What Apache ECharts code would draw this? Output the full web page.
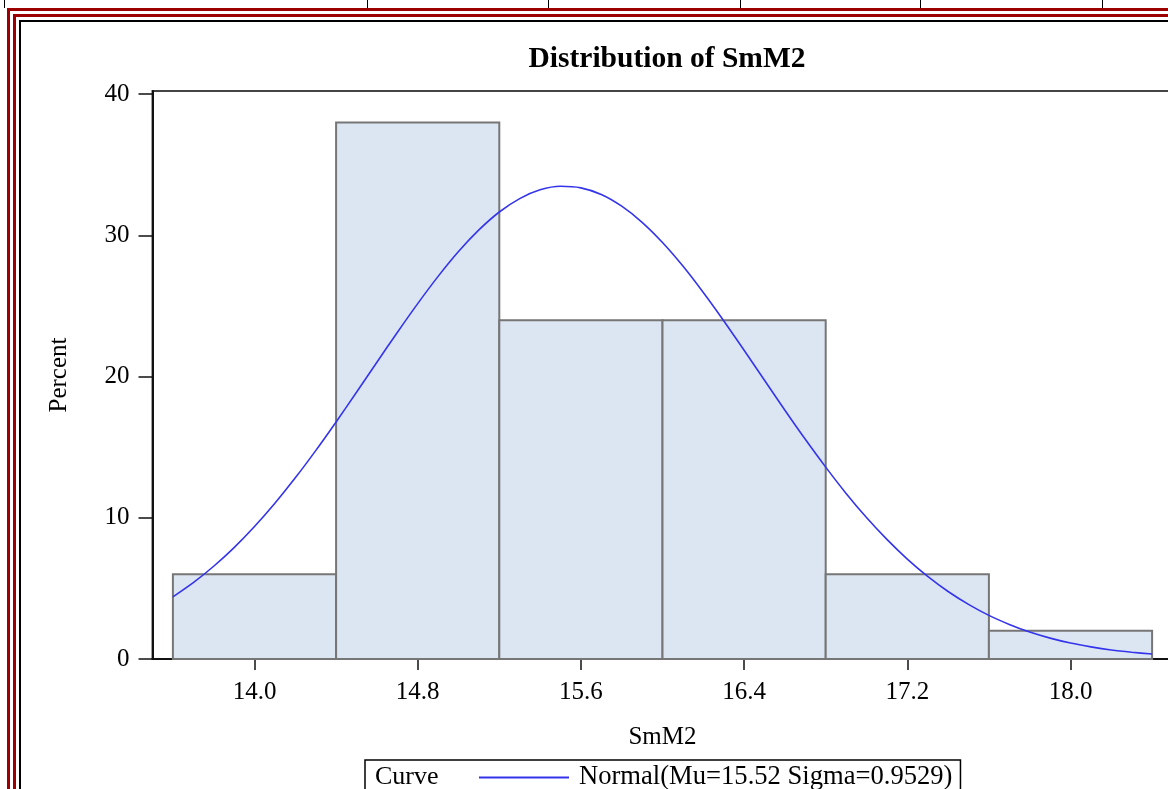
<!DOCTYPE html>
<html>
<head>
<meta charset="utf-8">
<script src="https://cdn.jsdelivr.net/npm/echarts@6/dist/echarts.min.js"></script>
<style>
  html, body { margin: 0; padding: 0; background: #fff; }
  body { width: 1168px; height: 789px; overflow: hidden; position: relative; }
  .deco { position: absolute; box-sizing: border-box; }
  #chart { position: absolute; left: 0; top: 0; width: 1168px; height: 860px; }
</style>
</head>
<body>
<div class="deco" style="left:4px;top:-2px;width:1px;height:10px;background:#000"></div>
<div class="deco" style="left:367px;top:-2px;width:1px;height:10px;background:#000"></div>
<div class="deco" style="left:548px;top:-2px;width:1px;height:10px;background:#000"></div>
<div class="deco" style="left:740px;top:-2px;width:1px;height:10px;background:#000"></div>
<div class="deco" style="left:920px;top:-2px;width:1px;height:10px;background:#000"></div>
<div class="deco" style="left:1102px;top:-2px;width:1px;height:10px;background:#000"></div>
<div class="deco" style="left:7px;top:8px;width:2000px;height:2000px;border-top:3px solid #9c0000;border-left:3px solid #9c0000"></div>
<div class="deco" style="left:13px;top:14px;width:2000px;height:2000px;border-top:3px solid #9c0000;border-left:3px solid #9c0000"></div>
<div class="deco" style="left:19px;top:20px;width:2000px;height:2000px;border-top:2px solid #000;border-left:2px solid #000"></div>
<div id="chart"></div>
<script>
// ---- data ----
const binMidpoints = [14.0, 14.8, 15.6, 16.4, 17.2, 18.0];
const binWidth = 0.8;
const binPercents = [6, 38, 24, 24, 6, 2];
const xTickLabels = [14.0, 14.8, 15.6, 16.4, 17.2, 18.0];
const yTickLabels = [0, 10, 20, 30, 40];
const curveX = [13.6, 13.7, 13.8, 13.9, 14.0, 14.1, 14.2, 14.3, 14.4, 14.5,
                14.6, 14.7, 14.8, 14.9, 15.0, 15.1, 15.2, 15.3, 15.4, 15.5,
                15.6, 15.7, 15.8, 15.9, 16.0, 16.1, 16.2, 16.3, 16.4, 16.5,
                16.6, 16.7, 16.8, 16.9, 17.0, 17.1, 17.2, 17.3, 17.4, 17.5,
                17.6, 17.7, 17.8, 17.9, 18.0, 18.1, 18.2, 18.3, 18.4];
const curveY = [4.40, 5.41, 6.57, 7.89, 9.38, 11.03, 12.83, 14.76, 16.79, 18.89,
                21.02, 23.13, 25.17, 27.10, 28.86, 30.39, 31.66, 32.61, 33.23, 33.48,
                33.37, 32.90, 32.07, 30.93, 29.50, 27.83, 25.96, 23.96, 21.87, 19.74,
                17.62, 15.56, 13.59, 11.73, 10.02, 8.47, 7.08, 5.85, 4.78, 3.87,
                3.09, 2.45, 1.91, 1.48, 1.13, 0.86, 0.64, 0.48, 0.35];
const curveName = 'Normal(Mu=15.52 Sigma=0.9529)';

const FONT = "'Liberation Serif', 'Times New Roman', serif";
const CURVE_COLOR = '#3434ec';
const barData = binMidpoints.map((m, i) => [m, binPercents[i]]);
const curveData = curveX.map((x, i) => [x, curveY[i]]);

const chart = echarts.init(document.getElementById('chart'), null, { renderer: 'canvas' });
chart.setOption({
  animation: false,
  backgroundColor: 'transparent',
  textStyle: { fontFamily: FONT, color: '#000' },
  title: {
    text: 'Distribution of SmM2',
    left: 662, top: 39, textAlign: 'center',
    textStyle: { fontFamily: FONT, fontWeight: 'bold', fontSize: 29.5, color: '#000' }
  },
  grid: {
    left: 152.5, top: 91, width: 1020, height: 568,
    show: true, borderColor: '#444', borderWidth: 2, backgroundColor: 'transparent',
    outerBoundsMode: 'none', containLabel: false
  },
  xAxis: {
    type: 'value', min: 13.5, max: 18.5,
    name: 'SmM2', nameLocation: 'middle', nameGap: 66,
    nameTextStyle: { fontFamily: FONT, fontSize: 25, color: '#000' },
    axisLine: { show: true, onZero: false, lineStyle: { color: '#111', width: 2 } },
    axisTick: { show: true, length: 11, customValues: xTickLabels, lineStyle: { color: '#111', width: 1.5 } },
    axisLabel: { show: true, margin: 21, customValues: xTickLabels, fontFamily: FONT, fontSize: 25, color: '#000',
                 formatter: v => Number(v).toFixed(1) },
    splitLine: { show: false }
  },
  yAxis: {
    type: 'value', min: 0, max: 40.23,
    name: 'Percent', nameLocation: 'middle', nameGap: 81, nameRotate: 90,
    nameTextStyle: { fontFamily: FONT, fontSize: 25, color: '#000' },
    axisLine: { show: true, lineStyle: { color: '#111', width: 2 } },
    axisTick: { show: true, length: 14, customValues: yTickLabels, lineStyle: { color: '#111', width: 1.5 } },
    axisLabel: { show: true, margin: 23, customValues: yTickLabels, fontFamily: FONT, fontSize: 25, color: '#000' },
    splitLine: { show: false }
  },
  legend: {
    show: true,
    left: 365, top: 760, width: 'auto', height: 'auto',
    orient: 'horizontal',
    padding: [4, 8, 20, 113],
    borderColor: '#000', borderWidth: 1.5,
    itemWidth: 90, itemHeight: 14,
    data: [curveName],
    itemStyle: { color: 'transparent', borderColor: 'transparent', borderWidth: 0, opacity: 0 },
    textStyle: { fontFamily: FONT, fontSize: 26.6, color: '#000', padding: [0, 0, 0, 5] },
    selectedMode: false
  },
  graphic: [{
    type: 'text', left: 375, top: 764,
    style: { text: 'Curve', font: "26px 'Liberation Serif', 'Times New Roman', serif", fill: '#000' }
  }],
  series: [
    {
      type: 'custom',
      name: 'bars',
      data: barData,
      encode: { x: 0, y: 1 },
      z: 2,
      renderItem: function (params, api) {
        const mid = api.value(0), h = api.value(1);
        const p0 = api.coord([mid - binWidth / 2, h]);
        const p1 = api.coord([mid + binWidth / 2, 0]);
        return {
          type: 'rect',
          shape: { x: p0[0], y: p0[1], width: p1[0] - p0[0], height: p1[1] - p0[1] },
          style: { fill: '#dce6f2', stroke: '#767676', lineWidth: 2 }
        };
      }
    },
    {
      type: 'line',
      name: curveName,
      data: curveData,
      showSymbol: false, symbol: 'none',
      smooth: 0.25,
      z: 3,
      color: CURVE_COLOR,
      lineStyle: { color: CURVE_COLOR, width: 1.6 },
      itemStyle: { color: CURVE_COLOR }
    }
  ]
});
</script>
</body>
</html>
